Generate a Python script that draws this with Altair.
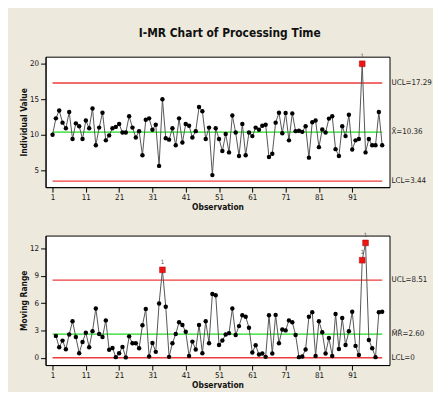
import altair as alt
import pandas as pd

# ---------------- data ----------------
observations = list(range(1, 101))

individual = [
    10.0, 12.3, 13.4, 11.7, 10.9, 13.2, 9.4, 11.6, 11.2, 9.4,
    12.0, 10.9, 13.7, 8.5, 11.0, 13.1, 9.2, 9.9, 10.9, 11.1,
    11.5, 10.3, 10.3, 12.6, 11.0, 9.6, 10.5, 7.1, 12.1, 12.3,
    10.7, 11.4, 5.6, 15.0, 9.5, 9.3, 10.9, 8.5, 12.3, 8.9,
    11.5, 11.25, 9.6, 10.5, 13.9, 13.3, 9.4, 11.0, 4.3, 10.9,
    9.4, 7.7, 10.1, 7.5, 12.7, 10.3, 7.0, 11.5, 7.1, 10.3,
    9.8, 11.0, 10.7, 11.25, 11.4, 6.85, 7.3, 11.7, 13.1, 10.2,
    13.05, 9.2, 13.0, 10.5, 10.55, 10.4, 11.2, 6.76, 11.76, 12.0,
    8.24, 10.74, 10.3, 12.27, 12.6, 7.96, 7.0, 11.2, 9.8, 12.8,
    7.9, 9.2, 9.4, 20.0, 7.5, 9.4, 8.5, 8.5, 13.2, 8.5,
]

# moving ranges for observations 2..100
moving_range = [
    2.4, 1.16, 1.88, 0.94, 2.56, 4.0, 2.27, 0.5, 1.73,
    2.74, 1.16, 2.92, 5.4, 2.6, 2.27, 4.1, 0.87, 1.08, 0.07,
    0.5, 1.19, 0.04, 2.35, 1.59, 1.59, 1.05, 3.57, 5.34, 0.14,
    1.62, 0.65, 5.96, 9.64, 5.6, 0.1, 1.6, 2.6, 3.9, 3.6,
    2.85, 0.2, 1.77, 0.9, 3.6, 0.5, 4.0, 1.6, 7.0, 6.86,
    1.4, 1.9, 2.56, 2.7, 5.4, 2.5, 3.47, 4.66, 4.5, 3.3,
    0.58, 1.37, 0.36, 0.47, 0.1, 4.66, 0.47, 4.7, 1.6, 3.1,
    3.0, 4.1, 3.9, 2.5, 0.07, 0.14, 0.9, 4.5, 5.0, 0.2,
    4.0, 2.8, 0.47, 2.17, 0.2, 4.8, 0.97, 4.37, 1.4, 2.9,
    5.05, 1.3, 0.3, 10.7, 12.6, 1.95, 1.05, 0.07, 5.0, 5.05,
]

x_ticks = [1, 11, 21, 31, 41, 51, 61, 71, 81, 91]

i_limits = [17.29, 10.36, 3.44]
i_labels = ["UCL=17.29", "X\u0304=10.36", "LCL=3.44"]
i_yticks = [5, 10, 15, 20]

mr_limits = [8.51, 2.60, 0.0]
mr_labels = ["UCL=8.51", "M\u0304R\u0304=2.60", "LCL=0"]
mr_yticks = [0, 3, 6, 9, 12]

limit_kinds = ["limit", "center", "limit"]

# ---------------- styling ----------------
FONT = "DejaVu Sans Condensed, Liberation Sans Narrow, sans-serif"
W = 348
X_DOMAIN = [-1.1, 102.2]


def panel(values, obs, lim_vals, lim_labels, ydom, yticks, ytitle, height):
    df = pd.DataFrame({"obs": obs, "value": values})
    ucl = lim_vals[0]
    lim_df = pd.DataFrame({"value": lim_vals, "label": lim_labels, "kind": limit_kinds})

    x = alt.X(
        "obs:Q",
        scale=alt.Scale(domain=X_DOMAIN, nice=False, zero=False),
        axis=alt.Axis(values=x_ticks, tickCount=50, format="d", title="Observation",
                      grid=False, labelFlush=False, labelOverlap=False),
    )
    y = alt.Y(
        "value:Q",
        scale=alt.Scale(domain=ydom, nice=False, zero=False),
        axis=alt.Axis(values=yticks, tickCount=50, format="d", title=ytitle, grid=False,
                      labelOverlap=False),
    )

    rules = alt.Chart(lim_df).mark_rule(strokeWidth=1.3).encode(
        x=alt.datum(observations[0]),
        x2=alt.datum(observations[-1]),
        y=y,
        color=alt.Color(
            "kind:N",
            scale=alt.Scale(domain=["limit", "center"], range=["#ee3b3b", "#1fdc1f"]),
            legend=None,
        ),
    )
    labels = alt.Chart(lim_df).mark_text(
        align="left", baseline="middle", fontSize=8, font=FONT, color="#222"
    ).encode(x=alt.value(W + 2), y=y, text="label:N")

    base = alt.Chart(df)
    line = base.mark_line(color="#555555", strokeWidth=1).encode(x=x, y=y)
    pts = base.transform_filter(alt.datum.value <= ucl).mark_circle(
        color="black", size=20, opacity=1
    ).encode(x=x, y=y)
    flags = base.transform_filter(alt.datum.value > ucl).mark_square(
        color="#ee1515", size=34, opacity=1, stroke="#aa0000", strokeWidth=0.5
    ).encode(x=x, y=y)
    ones = base.transform_filter(alt.datum.value > ucl).mark_text(
        text="1", dy=-8, fontSize=6, font=FONT, color="#555"
    ).encode(x=x, y=y)

    return alt.layer(rules, line, pts, flags, ones, labels).properties(width=W, height=height)


top = panel(individual, observations, i_limits, i_labels, [2.6, 21.0], i_yticks,
            "Individual Value", 132)
bottom = panel(moving_range, observations[1:], mr_limits, mr_labels, [-0.8, 13.4], mr_yticks,
               "Moving Range", 131)

chart = (
    alt.vconcat(top, bottom, spacing=19)
    .properties(
        title=alt.TitleParams(
            "I-MR Chart of Processing Time",
            font=FONT, fontSize=12, fontWeight="bold", color="#111",
            anchor="middle", offset=13, dx=4,
        ),
        background="#EDE9DC",
        padding={"left": 11, "top": 16, "right": 0, "bottom": 0},
    )
    .configure_view(stroke="black", strokeWidth=1, fill="white")
    .configure_axis(
        labelFont=FONT, labelFontSize=8, labelColor="#111",
        titleFont=FONT, titleFontSize=8.5, titleFontWeight="bold", titleColor="#111",
        domainColor="black", tickColor="black", tickSize=5, labelPadding=2,
    )
    .configure_axisX(titlePadding=1)
    .configure_axisY(titlePadding=1)
)

chart.save("out.html", embed_options={"renderer": "svg", "actions": False})
